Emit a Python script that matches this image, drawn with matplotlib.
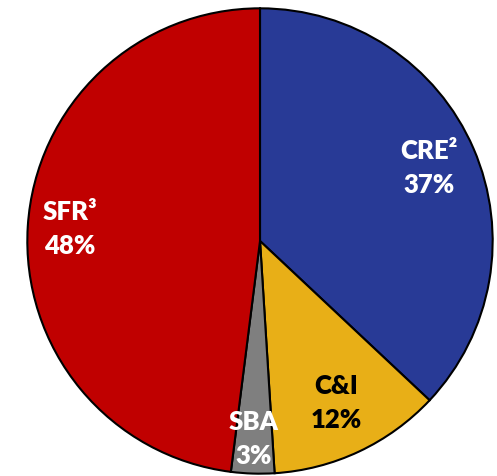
import numpy as np
import matplotlib.pyplot as plt

# Loan mix
categories = ["CRE²", "C&I", "SBA", "SFR³"]
shares = [37, 12, 3, 48]
colors = ["#283A96", "#E8AF17", "#7F7F7F", "#C00000"]
text_colors = ["white", "black", "white", "white"]
label_r = [0.79, 0.77, 0.85, 0.82]

fig = plt.figure(figsize=(4.97, 4.76), dpi=100)
ax = fig.add_axes([25 / 497, 0, 470 / 497, 470 / 476])

wedges, _ = ax.pie(shares, colors=colors, startangle=90, counterclock=False,
                   wedgeprops=dict(edgecolor="black", linewidth=1.5))
ax.set_xlim(-1.01, 1.01)
ax.set_ylim(-1.01, 1.01)
ax.set_aspect("equal")

for w, name, val, tc, r in zip(wedges, categories, shares, text_colors, label_r):
    ang = np.deg2rad((w.theta1 + w.theta2) / 2)
    ax.text(r * np.cos(ang), r * np.sin(ang), f"{name}\n{val}%",
            ha="center", va="center", color=tc, fontsize=18.5,
            fontweight="heavy", family="Lato", linespacing=1.5)

fig.savefig("out.png", dpi=100)
